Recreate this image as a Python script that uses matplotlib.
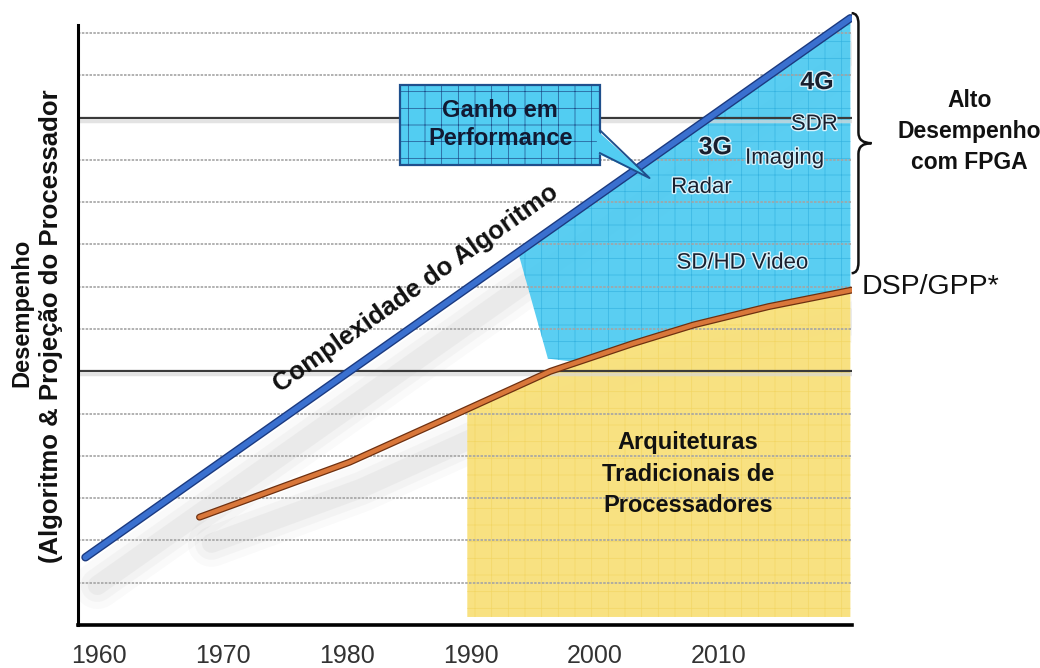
import numpy as np
import matplotlib
matplotlib.use("Agg")
import matplotlib.pyplot as plt
from matplotlib import font_manager
from matplotlib.patches import Rectangle, Polygon, PathPatch
from matplotlib.path import Path
import matplotlib.patheffects as pe
from matplotlib.transforms import offset_copy

# ---------------- data ----------------
tick_years = [1960, 1970, 1980, 1990, 2000, 2010]
tick_labels = ["1960", "1970", "1980", "1990", "2000", "2010"]

algo_years = [1958.9, 2020.6]          # Complexidade do Algoritmo (blue line)
algo_values = [1.6, 14.35]

dsp_years = [1968.1, 1980.2, 1988.3, 1996.4, 2003.0, 2008.0, 2014.0, 2020.7]   # DSP/GPP (orange)
dsp_values = [2.55, 3.85, 4.92, 6.00, 6.65, 7.10, 7.53, 7.92]

grid_levels = list(range(1, 15))
solid_levels = [6, 12]

trad_start_year = 1989.7    # yellow region (traditional architectures)
trad_floor = 0.19
fpga_left_year = 1993.8     # cyan region (performance gain)
fpga_tip = (1996.2, 6.3)
fpga_join_year = 1998.6
brace_range = (8.32, 14.47)

app_labels = ["4G", "SDR", "3G", "Imaging", "Radar", "SD/HD Video"]
app_x = [2017.9, 2017.7, 2009.7, 2015.3, 2008.6, 2011.9]
app_y = [12.84, 11.84, 11.30, 11.04, 10.35, 8.56]
app_bold = [True, False, True, False, False, False]
app_size = [18, 16, 18, 16, 16, 16]

# ---------------- fonts ----------------
names = {f.name for f in font_manager.fontManager.ttflist}
BASE = "Liberation Sans" if "Liberation Sans" in names else "DejaVu Sans"
NARROW = "Liberation Sans Narrow" if "Liberation Sans Narrow" in names else BASE
plt.rcParams["font.family"] = [BASE, "DejaVu Sans"]
plt.rcParams["hatch.linewidth"] = 0.5

# ---------------- figure ----------------
W, H = 1040, 668
fig = plt.figure(figsize=(W / 100, H / 100), dpi=100)
fig.patch.set_facecolor("white")
x_l, x_r, y_b, y_t = 78, 852, 625, 14
ax = fig.add_axes([x_l / W, 1 - y_b / H, (x_r - x_l) / W, (y_b - y_t) / H])
ax.set_xlim(1958.3, 2020.73)
ax.set_ylim(0, 14.45)
ax.set_facecolor("none")

# spines
for s in ["top", "right"]:
    ax.spines[s].set_visible(False)
ax.spines["left"].set_linewidth(2.2)
ax.spines["left"].set_bounds(0, 14.18)
ax.spines["bottom"].set_linewidth(2.6)
ax.spines["left"].set_zorder(6)
ax.spines["bottom"].set_zorder(6)

ax.set_yticks([])
ax.set_xticks(tick_years)
ax.set_xticklabels(tick_labels, family=[NARROW, BASE],
                   fontsize=20 if NARROW != BASE else 18, color="#333333")
ax.tick_params(axis="x", length=0, pad=14)

# gridlines
for lv in grid_levels:
    if lv in solid_levels:
        ax.axhline(lv, color="#3a3a3a", lw=1.6, zorder=0.6)
        ax.axhline(lv - 0.07, color="#d8d8d8", lw=2.5, zorder=0.5, alpha=0.7)
    else:
        ax.axhline(lv, color="#a4a4a4", lw=1.2, ls=(0, (1.5, 0.8)), zorder=0.6)

# ---------------- regions ----------------
ax_arr = np.array(algo_years)
ay_arr = np.array(algo_values)
dx_arr = np.array(dsp_years)
dy_arr = np.array(dsp_values)
right_end = algo_years[-1]

# yellow region under DSP curve
yx = np.concatenate([[trad_start_year], dx_arr[(dx_arr > trad_start_year) & (dx_arr < right_end)], [right_end]])
yy = np.interp(yx, dx_arr, dy_arr)
ax.fill_between(yx, trad_floor, yy, facecolor="#f8e07a", edgecolor="#f2d664",
                hatch="+", lw=0, zorder=0.45, alpha=0.95)

# cyan region between algorithm line and DSP curve
top_x = np.array([fpga_left_year, right_end])
top_y = np.interp(top_x, ax_arr, ay_arr)
bot_x = np.concatenate([[right_end], dx_arr[(dx_arr > fpga_join_year) & (dx_arr < right_end)][::-1], [fpga_join_year]])
bot_y = np.interp(bot_x, dx_arr, dy_arr)
poly = np.vstack([np.column_stack([top_x, top_y]),
                  np.column_stack([bot_x, bot_y]),
                  [fpga_tip]])
ax.add_patch(Polygon(poly, closed=True, facecolor="#4ccaf1", edgecolor="#34b2e0",
                     hatch="+", lw=0, zorder=0.45, alpha=0.92))

# ---------------- lines with shadows ----------------
def shadow(xs, ys, dx, dy):
    tr = offset_copy(ax.transData, fig=fig, x=dx, y=dy, units="dots")
    for lw, a in [(34, 0.03), (24, 0.04), (14, 0.055)]:
        ax.plot(xs, ys, color="#606060", lw=lw, alpha=a, transform=tr,
                solid_capstyle="round", zorder=0.35)

shadow(algo_years, algo_values, 12, -28)
shadow(dsp_years, dy_arr, 12, -26)

ax.plot(algo_years, algo_values, color="#3a70cf", lw=4.0, zorder=5,
        solid_capstyle="round",
        path_effects=[pe.Stroke(linewidth=6.0, foreground="#1b3a80"), pe.Normal()])
ax.plot(dsp_years, dsp_values, color="#d9773a", lw=3.2, zorder=5,
        solid_capstyle="round", solid_joinstyle="round",
        path_effects=[pe.Stroke(linewidth=5.0, foreground="#6e3010", joinstyle="round"), pe.Normal()])

# ---------------- callout box ----------------
box_x0, box_x1, box_y0, box_y1 = 1984.3, 2000.4, 10.87, 12.77
ax.add_patch(Rectangle((box_x0, box_y0), box_x1 - box_x0, box_y1 - box_y0,
                       facecolor="#52cdf2", edgecolor="#1f4f8c", lw=1.6,
                       hatch="+", zorder=7))
tail = [(box_x1 - 0.25, 11.70), (2004.4, 10.57), (box_x1 - 0.25, 11.16)]
ax.add_patch(Polygon(tail, closed=True, facecolor="#52cdf2", lw=0, zorder=7.1))
ax.plot([box_x1, 2004.4, box_x1], [11.70, 10.57, 11.16], color="#1f4f8c", lw=1.4, zorder=7.2)
ax.text((box_x0 + box_x1) / 2, 11.84, "Ganho em\nPerformance", ha="center", va="center",
        fontsize=17, fontweight="bold", color="#121a33", linespacing=1.3, zorder=8)

# ---------------- texts ----------------
ax.text(1985.55, 7.95, "Complexidade do Algoritmo", rotation=35.2, rotation_mode="anchor",
        ha="center", va="center", fontsize=18.5, fontweight="bold", color="#111111", zorder=8)

for lab, x, y, b, fs in zip(app_labels, app_x, app_y, app_bold, app_size):
    ax.text(x, y, lab, ha="center", va="center", fontsize=fs,
            fontweight="bold" if b else "normal", color="#1a1f2e", zorder=8,
            path_effects=[pe.withStroke(linewidth=2, foreground="#d8f2fb")])

ax.text(2007.5, 3.57, "Arquiteturas\nTradicionais de\nProcessadores", ha="center", va="center",
        fontsize=17, fontweight="bold", color="#111111", linespacing=1.45, zorder=8)

ax.text(2030.2, 11.68, "Alto\nDesempenho\ncom FPGA", ha="center", va="center",
        fontsize=16.5, fontweight="bold", color="#111111", linespacing=1.45, clip_on=False)

ax.text(2021.5, dsp_values[-1] + 0.07, "DSP/GPP*", ha="left", va="center",
        family=[NARROW, BASE], fontsize=23 if NARROW != BASE else 20.5,
        color="#111111", clip_on=False)

# brace
bx0, bx1, btip = right_end + 0.1, right_end + 0.65, right_end + 1.7
bb, bt = brace_range
bm = (bb + bt) / 2
r = 0.25
verts = [(bx0, bt), (bx1, bt), (bx1, bt - r),
         (bx1, bm + r),
         (bx1, bm), (btip, bm),
         (bx1, bm), (bx1, bm - r),
         (bx1, bb + r),
         (bx1, bb), (bx0, bb)]
codes = [Path.MOVETO, Path.CURVE3, Path.CURVE3,
         Path.LINETO,
         Path.CURVE3, Path.CURVE3,
         Path.CURVE3, Path.CURVE3,
         Path.LINETO,
         Path.CURVE3, Path.CURVE3]
ax.add_patch(PathPatch(Path(verts, codes), facecolor="none", edgecolor="#111111",
                       lw=1.8, clip_on=False, zorder=9))

# y label (two lines)
fig.text(22 / W, 1 - 313 / H, "Desempenho", rotation=90, ha="center", va="center",
         fontsize=17, fontweight="bold", color="#111111")
fig.text(51 / W, 1 - 326 / H, "(Algoritmo & Projeção do Processador", rotation=90,
         ha="center", va="center", fontsize=18.5, fontweight="bold", color="#111111")

fig.savefig("out.png", dpi=100, facecolor="white")
